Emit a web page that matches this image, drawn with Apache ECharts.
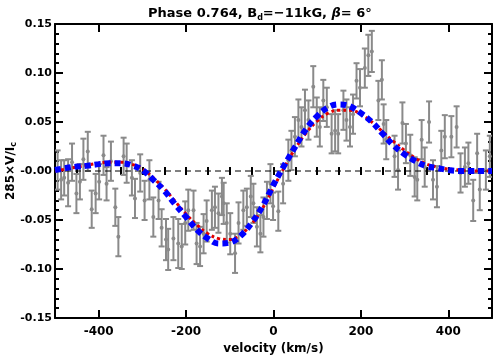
<!DOCTYPE html>
<html>
<head>
<meta charset="utf-8">
<script src="https://cdn.jsdelivr.net/npm/echarts@6/dist/echarts.min.js"></script>
<style>
  html, body { margin: 0; background: #fff; }
  #main { width: 504px; height: 360px; }
</style>
</head>
<body>
<div id="main"></div>
<script>
// observed Stokes V (scaled), velocity in km/s
const velocity = [
  -494, -486, -479, -470, -461, -451, -443, -435, -425, -416, -407, -399, -389, -382,
  -372, -362, -355, -343, -336, -324, -317, -305, -295, -284, -275, -263, -256, -246,
  -241, -229, -218, -210, -202, -195, -183, -176, -168, -160, -153, -141, -134, -126,
  -118, -114, -107, -99, -88, -80, -69, -61, -52, -46, -38, -30, -23, -15, -7,
  -1, 11, 22, 34, 41, 49, 57, 64, 72, 80, 91, 99, 106, 114, 122, 133, 141, 148,
  160, 167, 175, 182, 190, 198, 209, 217, 225, 240, 248, 252,
  258, 277, 285, 295, 303, 313, 323, 329, 339, 346, 356, 365, 374, 384, 392, 407,
  419, 428, 438, 446, 457, 466, 472, 486, 495
];
const stokesV = [
  0.001, -0.009, -0.007, -0.012, 0.009, -0.023, -0.011, 0.012, 0.020, -0.039, -0.023, -0.011, 0.016, -0.013,
  0.010, -0.037, -0.067, 0.015, 0.008, -0.007, -0.028, -0.002, -0.030, -0.009, -0.047, -0.030, -0.058, -0.070,
  -0.080, -0.069, -0.074, -0.077, -0.053, -0.040, -0.040, -0.074, -0.077, -0.064, -0.051, -0.040, -0.037, -0.043,
  -0.026, -0.033, -0.053, -0.064, -0.084, -0.053, -0.040, -0.037, -0.026, -0.033, -0.057, -0.064, -0.047, -0.030, -0.013,
  -0.036, -0.041, -0.013, 0.011, 0.021, 0.035, 0.052, 0.045, 0.062, 0.052, 0.086, 0.055, 0.045, 0.072, 0.065, 0.038, 0.041, 0.038,
  0.062, 0.052, 0.045, 0.058, 0.092, 0.085, 0.105, 0.118, 0.122, 0.072, 0.093, 0.048,
  0.032, 0.015, 0.001, 0.049, 0.028, 0.016, -0.006, -0.009, 0.032, 0.004, 0.050, -0.009, -0.016, 0.021, 0.035, 0.035,
  0.045, -0.002, 0.004, 0.008, -0.030, 0.018, -0.019, 0.001, 0.015
];
const sigma = [
  0.020, 0.020, 0.018, 0.024, 0.019, 0.020, 0.018, 0.021, 0.020, 0.019, 0.020, 0.018, 0.020, 0.017,
  0.020, 0.019, 0.020, 0.019, 0.020, 0.018, 0.020, 0.019, 0.020, 0.020, 0.020, 0.019, 0.019, 0.021,
  0.021, 0.022, 0.025, 0.023, 0.022, 0.021, 0.020, 0.021, 0.020, 0.020, 0.021, 0.020, 0.021, 0.020,
  0.019, 0.021, 0.020, 0.021, 0.020, 0.021, 0.020, 0.019, 0.021, 0.020, 0.020, 0.019, 0.020, 0.019, 0.020,
  0.014, 0.020, 0.020, 0.021, 0.020, 0.020, 0.021, 0.020, 0.021, 0.020, 0.021, 0.020, 0.020, 0.021, 0.020, 0.020, 0.021, 0.020,
  0.020, 0.021, 0.020, 0.020, 0.018, 0.019, 0.020, 0.021, 0.021, 0.020, 0.020, 0.020,
  0.020, 0.021, 0.020, 0.021, 0.020, 0.021, 0.020, 0.021, 0.020, 0.020, 0.021, 0.020, 0.021, 0.020, 0.022, 0.021,
  0.021, 0.020, 0.020, 0.021, 0.021, 0.020, 0.021, 0.020, 0.021
];

// model profiles
const modelVel = [
  -500, -475, -450, -425, -400, -375, -350, -325, -300, -275, -250, -225, -200, -175, -150, -125, -100,
  -75, -50, -25, 0, 25, 50, 75, 100, 125, 150, 175, 200, 225, 250, 275, 300, 325, 350, 375, 400, 425, 450, 475, 500
];
const blueModel = [
  0.001, 0.003, 0.0045, 0.0055, 0.007, 0.008, 0.008, 0.006, 0.001, -0.009, -0.020, -0.034, -0.047, -0.060, -0.069, -0.074, -0.073,
  -0.066, -0.053, -0.036, -0.014, 0.006, 0.025, 0.043, 0.056, 0.065, 0.068, 0.066, 0.059, 0.050, 0.038, 0.026, 0.017, 0.010, 0.005, 0.003, 0.001, 0.000, 0.000, 0.000, 0.000
];
const redModel = [
  0.000, 0.002, 0.004, 0.006, 0.008, 0.009, 0.009, 0.007, 0.002, -0.007, -0.018, -0.031, -0.044, -0.055, -0.064, -0.069, -0.070,
  -0.065, -0.054, -0.038, -0.017, 0.004, 0.023, 0.039, 0.051, 0.059, 0.062, 0.062, 0.058, 0.050, 0.040, 0.030, 0.021, 0.013, 0.007, 0.004, 0.002, 0.001, 0.000, 0.000, 0.000
];

const xMajorTicks = [-400, -200, 0, 200, 400];
const yTickLabels = { '0.15': '0.15', '0.1': '0.10', '0.05': '0.05', '0': '-0.00',
  '-0.05': '-0.05', '-0.1': '-0.10', '-0.15': '-0.15' };

const FONT = 'DejaVu Sans';
const GRAY = '#8a8a8a';

const chart = echarts.init(document.getElementById('main'));

function renderErrorBar(params, api) {
  const x = api.value(0), y = api.value(1), e = api.value(2);
  const top = api.coord([x, y + e]);
  const bot = api.coord([x, y - e]);
  const mid = api.coord([x, y]);
  const cap = 3;
  const style = { stroke: GRAY, lineWidth: 2 };
  return {
    type: 'group',
    children: [
      { type: 'line', shape: { x1: top[0], y1: top[1], x2: bot[0], y2: bot[1] }, style: style },
      { type: 'line', shape: { x1: top[0] - cap, y1: top[1], x2: top[0] + cap, y2: top[1] }, style: style },
      { type: 'line', shape: { x1: bot[0] - cap, y1: bot[1], x2: bot[0] + cap, y2: bot[1] }, style: style },
      { type: 'circle', shape: { cx: mid[0], cy: mid[1], r: 2 }, style: { fill: GRAY } }
    ]
  };
}

const axisLine = { show: true, onZero: false, lineStyle: { color: '#000', width: 2 } };
const fmtX = v => (v < 0 ? '-' + Math.abs(v) : String(v));

const xBase = { type: 'value', min: -500, max: 500, splitLine: { show: false } };

const option = {
  animation: false,
  backgroundColor: '#fff',
  title: {
    text: '{t|Phase 0.764, B}{s|d}{t|=\u221211kG, }{g|\u03b2}{t|= 6\u00b0}',
    left: 143,
    top: 1,
    textStyle: {
      rich: {
        t: { fontFamily: FONT, fontWeight: 'bold', fontSize: 13, color: '#000' },
        s: { fontFamily: FONT, fontWeight: 'bold', fontSize: 8, color: '#000', verticalAlign: 'bottom', padding: [8, 0, 0, 0] },
        g: { fontFamily: FONT, fontWeight: 'bold', fontStyle: 'italic', fontSize: 13, color: '#000' }
      }
    }
  },
  grid: { left: 55, right: 12, top: 24, bottom: 42, outerBoundsMode: 'none' },
  xAxis: [
    Object.assign({}, xBase, {
      position: 'bottom',
      axisLine: axisLine,
      axisTick: { show: true, inside: true, length: 8, customValues: xMajorTicks, lineStyle: { color: '#000', width: 2 } },
      axisLabel: { margin: 8, customValues: xMajorTicks, formatter: fmtX,
        color: '#000', fontFamily: FONT, fontWeight: 'bold', fontSize: 12 },
      name: 'velocity (km/s)',
      nameLocation: 'middle',
      nameGap: 25,
      nameMoveOverlap: false,
      nameTextStyle: { color: '#000', fontFamily: FONT, fontWeight: 'bold', fontSize: 12 }
    }),
    Object.assign({}, xBase, {
      position: 'bottom', interval: 50,
      axisLine: { show: false },
      axisTick: { show: true, inside: true, length: 4, lineStyle: { color: '#000', width: 2 } },
      axisLabel: { show: false }
    }),
    Object.assign({}, xBase, {
      position: 'top',
      axisLine: axisLine,
      axisTick: { show: true, inside: true, length: 8, customValues: xMajorTicks, lineStyle: { color: '#000', width: 2 } },
      axisLabel: { show: false }
    }),
    Object.assign({}, xBase, {
      position: 'top', interval: 50,
      axisLine: { show: false },
      axisTick: { show: true, inside: true, length: 4, lineStyle: { color: '#000', width: 2 } },
      axisLabel: { show: false }
    })
  ],
  yAxis: [
    {
      type: 'value', min: -0.15, max: 0.15, interval: 0.05, position: 'left',
      axisLine: axisLine,
      splitLine: { show: false },
      axisTick: { show: true, inside: true, length: 8, lineStyle: { color: '#000', width: 2 } },
      minorTick: { show: true, splitNumber: 5, length: 4, lineStyle: { color: '#000', width: 2 } },
      axisLabel: { margin: 3, formatter: v => yTickLabels[String(Math.round(v * 100) / 100)],
        color: '#000', fontFamily: FONT, fontWeight: 'bold', fontSize: 11 },
      name: '{a|285\u00d7V/I}{s|c}',
      nameLocation: 'middle',
      nameRotate: 90,
      nameGap: 37,
      nameMoveOverlap: false,
      nameTextStyle: {
        rich: {
          a: { fontFamily: FONT, fontWeight: 'bold', fontSize: 12, color: '#000' },
          s: { fontFamily: FONT, fontWeight: 'bold', fontSize: 8, color: '#000', verticalAlign: 'bottom', padding: [6, 0, 0, 0] }
        }
      }
    },
    {
      type: 'value', min: -0.15, max: 0.15, interval: 0.05, position: 'right',
      axisLine: axisLine,
      splitLine: { show: false },
      axisTick: { show: true, inside: true, length: 8, lineStyle: { color: '#000', width: 2 } },
      minorTick: { show: true, splitNumber: 5, length: 4, lineStyle: { color: '#000', width: 2 } },
      axisLabel: { show: false }
    }
  ],
  series: [
    {
      type: 'custom',
      name: 'observed',
      renderItem: renderErrorBar,
      data: velocity.map((v, i) => [v, stokesV[i], sigma[i]]),
      encode: { x: 0, y: 1 },
      clip: true,
      z: 2
    },
    {
      type: 'line',
      name: 'zero',
      data: [[-500, 0], [500, 0]],
      showSymbol: false,
      lineStyle: { color: '#000', width: 1, type: [6, 4] },
      z: 3
    },
    {
      type: 'line',
      name: 'model red',
      data: modelVel.map((v, i) => [v, redModel[i]]),
      smooth: 0.4,
      showSymbol: false,
      lineStyle: { color: '#e00000', width: 3, type: [3, 3] },
      z: 4
    },
    {
      type: 'line',
      name: 'model blue',
      data: modelVel.map((v, i) => [v, blueModel[i]]),
      smooth: 0.4,
      showSymbol: false,
      lineStyle: { color: '#0000ff', width: 6, type: [6, 4], cap: 'butt' },
      z: 5
    }
  ]
};

chart.setOption(option);
</script>
</body>
</html>
